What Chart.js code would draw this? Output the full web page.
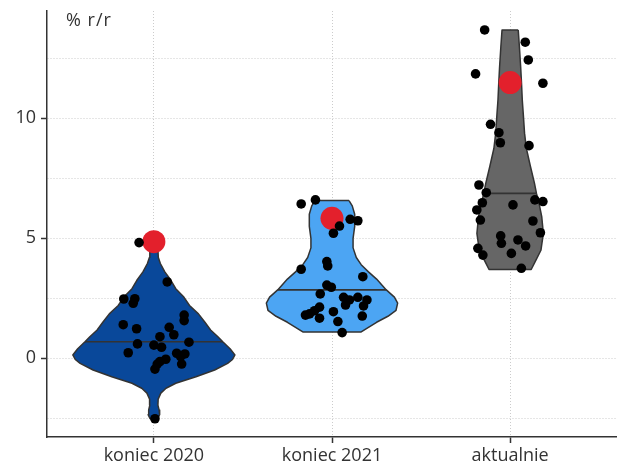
<!DOCTYPE html>
<html>
<head>
<meta charset="utf-8">
<script src="https://cdn.jsdelivr.net/npm/chart.js@4.4.1/dist/chart.umd.min.js"></script>
<style>
  html, body { margin: 0; padding: 0; background: #ffffff; }
  canvas { display: block; }
</style>
</head>
<body>
<canvas id="chart" width="617" height="471"></canvas>
<script>
// Categories on the x axis
const categories = ['koniec 2020', 'koniec 2021', 'aktualnie'];

// Y axis: dotted grid levels and the labelled ones
const yGridValues = [-2.5, 0, 2.5, 5, 7.5, 10, 12.5];
const yTickLabels = [0, 5, 10];
const unitLabel = '% r/r';

// Individual forecasts (% r/r) and their horizontal jitter (category units)
const values2020 = [4.82, 3.18, 2.47, 2.48, 2.29, 1.80, 1.57, 1.40, 1.23, 1.29, 0.98, 0.90, 0.60, 0.67,
  0.55, 0.46, 0.23, 0.21, 0.18, 0.07, -0.04, -0.14, -0.24, -0.24, -0.45, -2.52];
const jitter2020 = [-0.083, 0.075, -0.169, -0.107, -0.116, 0.170, 0.170, -0.172, -0.097, 0.086, 0.112, 0.034, -0.092, 0.197,
  0.0, 0.043, -0.144, 0.128, 0.174, 0.150, 0.067, 0.034, 0.019, 0.156, 0.006, 0.006];

const values2021 = [6.43, 6.60, 5.79, 5.73, 5.51, 5.21, 4.03, 3.85, 3.71, 3.40, 3.05, 2.96, 2.68, 2.54,
  2.43, 2.54, 2.43, 2.22, 2.18, 2.13, 1.98, 1.85, 1.80, 1.67, 1.94, 1.76, 1.53, 1.07];
const jitter2021 = [-0.173, -0.093, 0.102, 0.145, 0.042, 0.008, -0.029, -0.024, -0.173, 0.173, -0.029, -0.004, -0.066, 0.065,
  0.098, 0.145, 0.196, 0.076, 0.177, -0.070, -0.098, -0.126, -0.149, -0.070, 0.008, 0.170, 0.033, 0.057];

const valuesNow = [13.68, 13.17, 12.43, 11.85, 11.46, 9.75, 9.40, 8.98, 8.86, 7.22, 6.90, 6.48, 6.18, 5.76,
  6.39, 6.60, 6.53, 5.72, 5.23, 5.10, 4.79, 4.93, 4.68, 4.37, 4.58, 4.30, 3.75];
const jitterNow = [-0.143, 0.085, 0.102, -0.194, 0.184, -0.110, -0.063, -0.055, 0.106, -0.175, -0.134, -0.156, -0.187, -0.167,
  0.016, 0.139, 0.184, 0.128, 0.170, -0.053, -0.049, 0.044, 0.087, 0.007, -0.181, -0.153, 0.063];

// Highlighted value per category (red marker)
const highlightValues = [4.86, 5.83, 11.49];

// Median of each distribution
const medianValues = [0.69, 2.85, 6.87];

// Density profiles: levels (top to bottom) and relative density at each level
const levels2020 = [4.82, 4.5, 4.2, 3.95, 3.6, 3.25, 2.9, 2.55, 2.2, 1.85, 1.5, 1.18, 0.9, 0.69, 0.4, 0.14,
  -0.05, -0.21, -0.49, -0.77, -1.04, -1.25, -1.45, -1.7, -1.95, -2.15, -2.35, -2.5, -2.55];
const density2020 = [0.04, 0.05, 0.055, 0.08, 0.135, 0.21, 0.27, 0.37, 0.44, 0.55, 0.63, 0.70, 0.79, 0.85, 0.94, 1.00,
  0.97, 0.91, 0.75, 0.52, 0.27, 0.15, 0.086, 0.053, 0.05, 0.064, 0.071, 0.05, 0.03];

const levels2021 = [6.57, 6.35, 6.0, 5.5, 5.0, 4.6, 4.2, 3.9, 3.6, 3.3, 2.85, 2.55, 2.3, 2.0, 1.75, 1.5, 1.25, 1.1];
const density2021 = [0.21, 0.25, 0.28, 0.28, 0.26, 0.26, 0.30, 0.36, 0.45, 0.55, 0.67, 0.77, 0.81, 0.79, 0.69, 0.55, 0.43, 0.36];

const levelsNow = [13.68, 13.0, 12.15, 11.5, 10.76, 10.14, 9.38, 8.75, 8.0, 7.3, 6.87, 6.4, 5.9, 5.2, 4.5, 4.1, 3.7];
const densityNow = [0.10, 0.114, 0.13, 0.14, 0.15, 0.163, 0.178, 0.20, 0.25, 0.30, 0.325, 0.36, 0.39, 0.41, 0.38, 0.32, 0.26];

// ---- drawing setup ----
const HALF_WIDTH = 0.455;          // half-width of the widest violin, in category units
const violinFills = ['#09489a', '#4ca5f3', '#666666'];
const outline = '#333333';
const textColor = '#333333';
const fontFamily = '"Open Sans", "DejaVu Sans", sans-serif';

const groups = [
  { values: values2020, jitter: jitter2020, levels: levels2020, density: density2020 },
  { values: values2021, jitter: jitter2021, levels: levels2021, density: density2021 },
  { values: valuesNow,  jitter: jitterNow,  levels: levelsNow,  density: densityNow }
];

function violinOutline(center, levels, density) {
  const right = levels.map((y, i) => ({ x: center + density[i] * HALF_WIDTH, y }));
  const left = levels.map((y, i) => ({ x: center - density[i] * HALF_WIDTH, y })).reverse();
  const pts = right.concat(left);
  pts.push(pts[0]);
  return pts;
}

function densityAt(levels, density, y) {
  for (let i = 0; i < levels.length - 1; i++) {
    const a = levels[i], b = levels[i + 1];
    if (y <= a && y >= b) {
      const t = (a - y) / (a - b);
      return density[i] + t * (density[i + 1] - density[i]);
    }
  }
  return 0;
}

const datasets = [];

groups.forEach((g, gi) => {
  const center = gi + 1;
  // violin body
  datasets.push({
    data: violinOutline(center, g.levels, g.density),
    showLine: true, fill: 'shape', tension: 0,
    backgroundColor: violinFills[gi], borderColor: outline, borderWidth: 1.5,
    borderJoinStyle: 'round', pointRadius: 0, order: 4
  });
  // median line
  const hw = densityAt(g.levels, g.density, medianValues[gi]) * HALF_WIDTH;
  datasets.push({
    data: [{ x: center - hw, y: medianValues[gi] }, { x: center + hw, y: medianValues[gi] }],
    showLine: true, fill: false, borderColor: outline, borderWidth: 1.6,
    pointRadius: 0, order: 3
  });
});

// highlighted markers
datasets.push({
  data: highlightValues.map((v, i) => ({ x: i + 1, y: v })),
  pointRadius: 11.5, pointBackgroundColor: '#e3202c', pointBorderWidth: 0, order: 2
});

// individual forecasts
groups.forEach((g, gi) => {
  datasets.push({
    data: g.values.map((v, i) => ({ x: gi + 1 + g.jitter[i], y: v })),
    pointRadius: 4.8, pointBackgroundColor: '#000000', pointBorderWidth: 0, order: 1
  });
});

const unitLabelPlugin = {
  id: 'unitLabel',
  afterDraw(chart) {
    const { ctx, chartArea } = chart;
    ctx.save();
    ctx.font = '18px ' + fontFamily;
    ctx.fillStyle = textColor;
    ctx.textBaseline = 'middle';
    ctx.textAlign = 'left';
    if ('letterSpacing' in ctx) ctx.letterSpacing = '1px';
    ctx.fillText(unitLabel, chartArea.left + 19, chartArea.top + 10);
    ctx.restore();
  }
};

// keep the plot area fixed: no extra room reserved for edge labels
function noEdgePadding(s) {
  s.paddingLeft = 0; s.paddingRight = 0; s.paddingTop = 0; s.paddingBottom = 0;
}

new Chart(document.getElementById('chart'), {
  type: 'scatter',
  data: { datasets },
  options: {
    responsive: false,
    animation: false,
    events: [],
    devicePixelRatio: 1,
    layout: { autoPadding: false, padding: { top: 11, right: 0, bottom: 0, left: 0 } },
    plugins: { legend: { display: false }, tooltip: { enabled: false } },
    scales: {
      x: {
        type: 'linear', min: 0.4, max: 3.6,
        afterBuildTicks: s => { s.ticks = categories.map((_, i) => ({ value: i + 1 })); },
        afterFit: s => { s.height = 34; noEdgePadding(s); },
        ticks: {
          callback: v => categories[v - 1],
          color: textColor, font: { family: fontFamily, size: 18 },
          padding: 2, maxRotation: 0, autoSkip: false
        },
        grid: { color: '#cccccc', lineWidth: 1, tickColor: outline, tickLength: 6, tickWidth: 1.5 },
        border: { color: outline, width: 1.5, dash: [1, 2] }
      },
      y: {
        type: 'linear', min: -3.28, max: 14.47,
        afterBuildTicks: s => { s.ticks = yGridValues.map(v => ({ value: v })); },
        afterFit: s => { s.width = 47; noEdgePadding(s); },
        ticks: {
          callback: v => yTickLabels.includes(v) ? String(v) : '',
          color: textColor, font: { family: fontFamily, size: 18 }, padding: 5
        },
        grid: {
          color: '#cccccc', lineWidth: 1, tickLength: 6, tickWidth: 1.5,
          tickColor: c => (c.tick && yTickLabels.includes(c.tick.value)) ? outline : 'rgba(0,0,0,0)'
        },
        border: { color: outline, width: 1.5, dash: [1, 2] }
      }
    }
  },
  plugins: [unitLabelPlugin]
});
</script>
</body>
</html>
